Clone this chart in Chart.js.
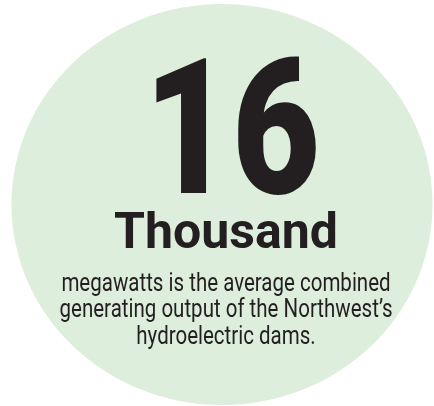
<!DOCTYPE html>
<html>
<head>
<meta charset="utf-8">
<script src="https://cdn.jsdelivr.net/npm/chart.js@4.4.1/dist/chart.umd.min.js"></script>
<style>
  html, body { margin: 0; padding: 0; background: #fff; }
  #wrap { width: 434px; height: 406px; }
</style>
</head>
<body>
<div id="wrap"><canvas id="chart"></canvas></div>
<script>
// — Data —
const labels    = ['Average hydro output (thousand MW)'];
const values    = [16];
const bigNumber = '16';
const unitLabel = 'Thousand';
const caption   = [
  'megawatts is the average combined',
  "generating output of the Northwest\u2019s",
  'hydroelectric dams.'
];

const INK = '#231f20';

// stretch the disc a bit sideways (the original is slightly oval)
const ovalPlugin = {
  id: 'oval',
  beforeDatasetsDraw(chart) {
    const arc = chart.getDatasetMeta(0).data[0];
    const ctx = chart.ctx;
    ctx.save();
    ctx.translate(arc.x, arc.y);
    ctx.scale(1.05, 1);
    ctx.translate(-arc.x, -arc.y);
  },
  afterDatasetsDraw(chart) {
    chart.ctx.restore();
  }
};

// draw text squeezed horizontally (the original face is condensed)
function squeezed(ctx, text, x, y, font, sx) {
  ctx.save();
  ctx.font = font;
  ctx.translate(x, y);
  ctx.scale(sx, 1);
  ctx.fillText(text, 0, 0);
  ctx.restore();
}

const textPlugin = {
  id: 'centerText',
  afterDraw(chart) {
    const arc = chart.getDatasetMeta(0).data[0];
    const ctx = chart.ctx;
    const cx = arc.x + 4, cy = arc.y;
    ctx.save();
    ctx.fillStyle = INK;
    ctx.textAlign = 'center';
    ctx.textBaseline = 'alphabetic';
    squeezed(ctx, bigNumber, cx + 6, cy - 12, '900 190px Roboto', 0.8);
    squeezed(ctx, unitLabel, cx, cy + 43, 'bold 50px Roboto', 1.0);
    caption.forEach((line, i) => {
      squeezed(ctx, line, cx, cy + 86 + i * 26.5, '25px Roboto', 0.82);
    });
    ctx.restore();
  }
};

new Chart(document.getElementById('chart'), {
  type: 'pie',
  data: {
    labels,
    datasets: [{
      data: values,
      backgroundColor: '#ddeedc',
      borderWidth: 0
    }]
  },
  options: {
    responsive: true,
    maintainAspectRatio: false,
    animation: false,
    layout: { padding: { top: 4, bottom: 1, left: 10, right: 0 } },
    plugins: {
      legend: { display: false },
      tooltip: { enabled: false }
    }
  },
  plugins: [ovalPlugin, textPlugin]
});
</script>
</body>
</html>
